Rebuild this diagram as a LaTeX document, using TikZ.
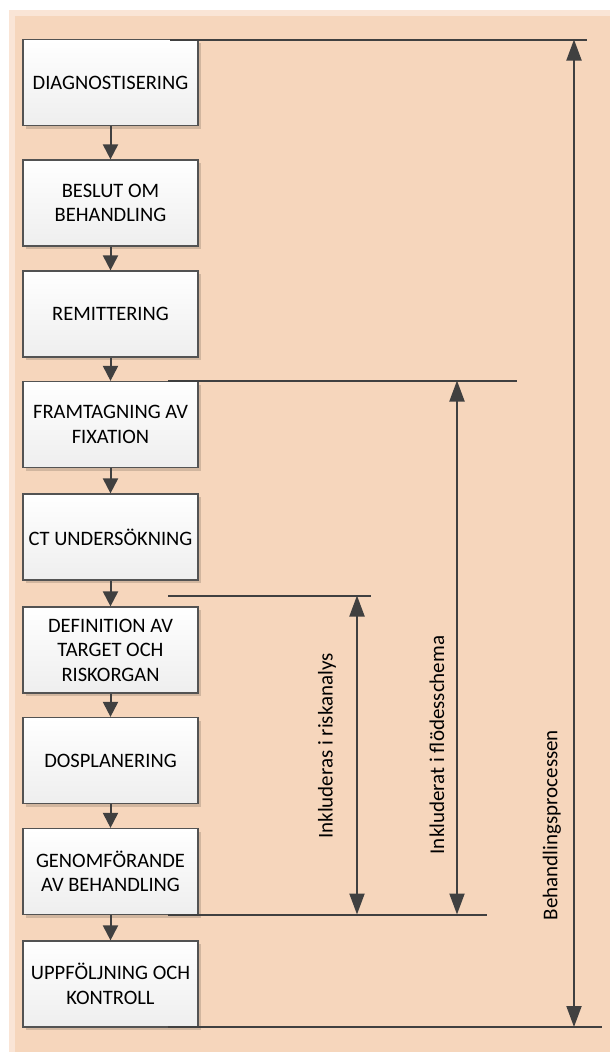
\documentclass[tikz,border=0pt]{standalone}
\usepackage{fontspec}
\setmainfont{Carlito}
\usetikzlibrary{arrows.meta,shadows}

\definecolor{frameout}{HTML}{FAE5D6}
\definecolor{framein}{HTML}{F6D6BC}
\definecolor{ink}{HTML}{404040}
\definecolor{boxbot}{HTML}{EEEEEE}

\tikzset{
  stepbox/.style={draw=ink!90, line width=1.2pt, top color=white, bottom color=boxbot,
    minimum width=175pt, minimum height=86pt, inner sep=0pt, align=center,
    font=\fontsize{20.5}{24.5}\selectfont,
    drop shadow={shadow xshift=3pt, shadow yshift=-3pt, fill=black, opacity=0.15}},
  flow/.style={draw=ink, line width=2pt, -{Triangle[length=15pt,width=15pt]}},
  rule/.style={draw=ink, line width=2pt},
  span/.style={draw=ink, line width=2pt,
    {Triangle[length=21pt,width=15pt]}-{Triangle[length=21pt,width=15pt]}},
  spanlabel/.style={rotate=90, font=\fontsize{21}{25}\selectfont, inner sep=0pt}
}

\begin{document}
\begin{tikzpicture}[x=1pt, y=-1pt]
  % page and background panels
  \useasboundingbox (0,0) rectangle (610,1052);
  \fill[white] (0,0) rectangle (610,1052);
  \fill[frameout] (9,10) rectangle (610,1052);
  \fill[framein] (15,16) rectangle (610,1052);

  % process steps
  \node[stepbox] (s1) at (110.5,82.5)  {DIAGNOSTISERING};
  \node[stepbox] (s2) at (110.5,203)   {BESLUT OM\\BEHANDLING};
  \node[stepbox] (s3) at (110.5,314)   {REMITTERING};
  \node[stepbox] (s4) at (110.5,424.5) {FRAMTAGNING AV\\FIXATION};
  \node[stepbox] (s5) at (110.5,537)   {CT UNDERSÖKNING};
  \node[stepbox] (s6) at (110.5,650)   {DEFINITION AV\\TARGET OCH\\RISKORGAN};
  \node[stepbox] (s7) at (110.5,760.5) {DOSPLANERING};
  \node[stepbox] (s8) at (110.5,871.5) {GENOMFÖRANDE\\AV BEHANDLING};
  \node[stepbox] (s9) at (110.5,984)   {UPPFÖLJNING OCH\\KONTROLL};

  \foreach \a/\b in {s1/s2,s2/s3,s3/s4,s4/s5,s5/s6,s6/s7,s7/s8,s8/s9}
    \draw[flow] (\a.south) -- (\b.north);

  % extent rules
  \coordinate (r1a) at (170,39.5);   \coordinate (r1b) at (587,39.5);
  \coordinate (r2a) at (168,380.5);  \coordinate (r2b) at (517,380.5);
  \coordinate (r3a) at (168,595.5);  \coordinate (r3b) at (371,595.5);
  \coordinate (r4a) at (168,914.5);  \coordinate (r4b) at (487,914.5);
  \coordinate (r5a) at (168,1027);   \coordinate (r5b) at (602,1027);
  \foreach \i in {1,...,5}
    \draw[rule] (r\i a) -- (r\i b);

  % span arrows
  \coordinate (p1t) at (574,39.5);  \coordinate (p1b) at (574,1027);
  \coordinate (p2t) at (457,380.5); \coordinate (p2b) at (457,914.5);
  \coordinate (p3t) at (357,595.5); \coordinate (p3b) at (357,914.5);
  \draw[span] (p1t) -- (p1b);
  \draw[span] (p2t) -- (p2b);
  \draw[span] (p3t) -- (p3b);

  \node[spanlabel] (l1) at (552,825) {Behandlingsprocessen};
  \node[spanlabel] (l2) at (437,745) {Inkluderat i flödesschema};
  \node[spanlabel] (l3) at (327,746) {Inkluderas i riskanalys};
\end{tikzpicture}
\end{document}
